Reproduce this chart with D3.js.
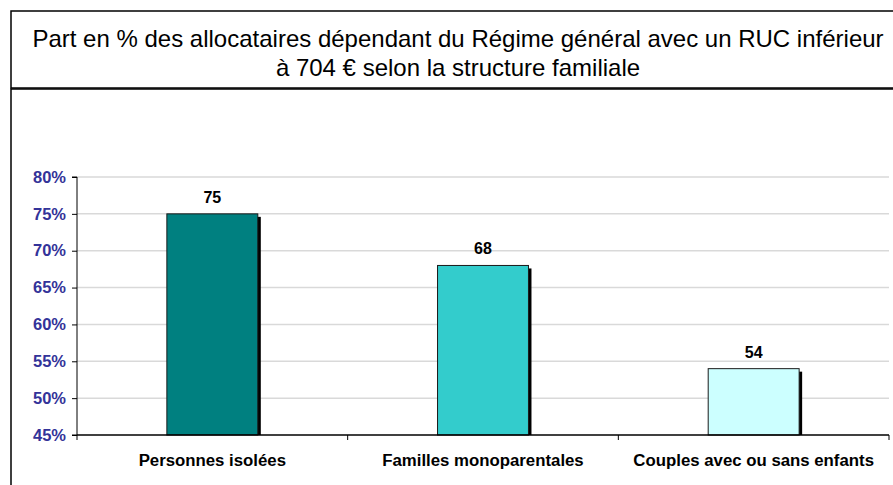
<!DOCTYPE html>
<meta charset="utf-8">
<script src="https://d3js.org/d3.v7.min.js"></script>
<style>
body { margin: 0; background: #fff; }
text { font-family: "Liberation Sans", Arial, sans-serif; }
</style>
<div id="chart"></div>
<script>
// data
var categories = ["Personnes isolées", "Familles monoparentales", "Couples avec ou sans enfants"];
var values = [75, 68, 54];
var colors = ["#008080", "#33CCCC", "#CCFFFF"];
var yTicks = [45, 50, 55, 60, 65, 70, 75, 80];
var titleLines = ["Part en % des allocataires dépendant du Régime général avec un RUC inférieur",
                  "à 704 € selon la structure familiale"];

var W = 893, H = 485;
var svg = d3.select("#chart").append("svg")
  .attr("width", W).attr("height", H);

// title box
svg.append("rect")
  .attr("x", 11).attr("y", 11)
  .attr("width", W).attr("height", 77)
  .attr("fill", "#fff").attr("stroke", "#000").attr("stroke-width", 1.5);

svg.selectAll(".title")
  .data(titleLines)
  .enter().append("text")
    .attr("x", 458)
    .attr("y", function(d, i) { return 47 + i * 29; })
    .attr("text-anchor", "middle")
    .style("font-size", "24px")
    .text(function(d) { return d; });

// chart box
svg.append("path")
  .attr("d", "M" + W + ",89H11V" + H)
  .attr("fill", "none").attr("stroke", "#000").attr("stroke-width", 1.5);

var margin = {left: 77, right: 889, top: 177, bottom: 435};

var x = d3.scaleBand()
  .domain(categories)
  .range([margin.left, margin.right])
  .paddingInner(0.664)
  .paddingOuter(0.332);

var y = d3.scaleLinear()
  .domain([45, 80])
  .range([margin.bottom, margin.top]);

// gridlines
svg.append("g")
  .selectAll("line")
  .data(yTicks.slice(1))
  .enter().append("line")
    .attr("x1", margin.left).attr("x2", margin.right)
    .attr("y1", function(d) { return y(d); })
    .attr("y2", function(d) { return y(d); })
    .attr("stroke", "#d9d9d9").attr("stroke-width", 1.5);

// y axis
var yAxis = svg.append("g")
  .attr("transform", "translate(" + margin.left + ",0)")
  .call(d3.axisLeft(y).tickValues(yTicks).tickSize(5).tickPadding(6)
    .tickFormat(function(d) { return d + "%"; }));
yAxis.select(".domain").attr("stroke", "#000").attr("d", "M-5," + y(80) + "H0V" + y(45) + "H-5");
yAxis.selectAll(".tick line").attr("stroke", "#000");
yAxis.selectAll(".tick text")
  .attr("fill", "#333399")
  .style("font-size", "16.5px")
  .style("font-weight", "bold")
  .style("font-family", "'Liberation Sans', Arial, sans-serif");

// shadows
var bw = x.bandwidth();
svg.append("g")
  .selectAll("rect")
  .data(values)
  .enter().append("rect")
    .attr("x", function(d, i) { return x(categories[i]) + 3; })
    .attr("y", function(d) { return y(d) + 3; })
    .attr("width", bw)
    .attr("height", function(d) { return y(45) - y(d) - 3; })
    .attr("fill", "#000");

// bars
svg.append("g")
  .selectAll("rect")
  .data(values)
  .enter().append("rect")
    .attr("x", function(d, i) { return x(categories[i]); })
    .attr("y", function(d) { return y(d); })
    .attr("width", bw)
    .attr("height", function(d) { return y(45) - y(d); })
    .attr("fill", function(d, i) { return colors[i]; })
    .attr("stroke", "#1a1a1a").attr("stroke-width", 1);

// value labels
svg.append("g")
  .selectAll("text")
  .data(values)
  .enter().append("text")
    .attr("x", function(d, i) { return x(categories[i]) + bw / 2; })
    .attr("y", function(d) { return y(d) - 11; })
    .attr("text-anchor", "middle")
    .style("font-size", "16px")
    .style("font-weight", "bold")
    .text(function(d) { return d; });

// x axis
var xb = d3.scaleLinear().domain([0, 3]).range([margin.left, margin.right]);
svg.append("line")
  .attr("x1", margin.left).attr("x2", margin.right)
  .attr("y1", margin.bottom).attr("y2", margin.bottom)
  .attr("stroke", "#000").attr("stroke-width", 1.5);
svg.append("g")
  .selectAll("line")
  .data([0, 1, 2, 3])
  .enter().append("line")
    .attr("x1", function(d) { return xb(d); })
    .attr("x2", function(d) { return xb(d); })
    .attr("y1", margin.bottom).attr("y2", margin.bottom + 5)
    .attr("stroke", "#000");

svg.append("g")
  .selectAll("text")
  .data(categories)
  .enter().append("text")
    .attr("x", function(d) { return x(d) + bw / 2; })
    .attr("y", 466)
    .attr("text-anchor", "middle")
    .style("font-size", "16.8px")
    .style("font-weight", "bold")
    .text(function(d) { return d; });
</script>
